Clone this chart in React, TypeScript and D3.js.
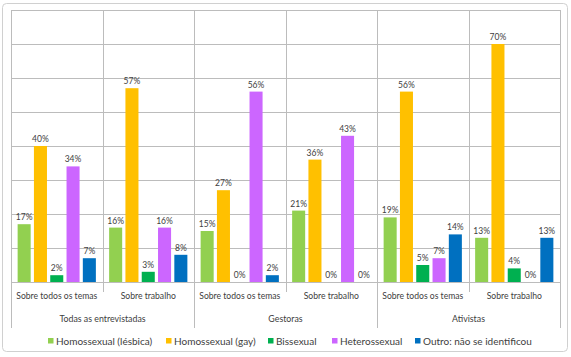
import React from "react";
import * as d3 from "d3";

const groups = ["Todas as entrevistadas", "Gestoras", "Ativistas"];
const subCategories = ["Sobre todos os temas", "Sobre trabalho"];
const seriesNames = [
  "Homossexual (lésbica)",
  "Homossexual (gay)",
  "Bissexual",
  "Heterossexual",
  "Outro: não se identificou",
];
const seriesColors = ["#92D050", "#FFC000", "#00B050", "#CC66FF", "#0070C0"];
// values per category (group x subcategory), in series order
const lesbica = [17, 16, 15, 21, 19, 13];
const gay = [40, 57, 27, 36, 56, 70];
const bissexual = [2, 3, 0, 0, 5, 4];
const heterossexual = [34, 16, 56, 43, 7, 0];
const outro = [7, 8, 2, 0, 14, 13];
const yTicks = [0, 10, 20, 30, 40, 50, 60, 70, 80];

const W = 571;
const H = 357;
const left = 11;
const right = 560;
const top = 10;
const bottom = 282;
const FONT = "Lato, 'Open Sans', sans-serif";
const TXT = "#404040";

export default function App() {
  const series = [lesbica, gay, bissexual, heterossexual, outro];
  const cats: { key: string; label: string; g: number }[] = [];
  groups.forEach((g, gi) =>
    subCategories.forEach((s, si) => cats.push({ key: `${gi}-${si}`, label: s, g: gi }))
  );
  const x0 = d3.scaleBand<string>().domain(cats.map((c) => c.key)).range([left, right]).padding(0);
  const step = x0.bandwidth();
  const x1 = d3
    .scaleBand<number>()
    .domain(d3.range(seriesNames.length))
    .range([5, step - 5])
    .paddingInner(0.2)
    .paddingOuter(0.1);
  const y = d3.scaleLinear().domain([0, 80]).range([bottom, top]);
  const gx = d3.scaleBand<number>().domain(d3.range(groups.length)).range([left, right]);

  const legendX = [48, 166, 268, 332, 415];

  return (
    <svg width={W} height={H} style={{ position: "absolute", left: 0, top: 0 }}>
      <rect x={0} y={0} width={W} height={H} fill="#fff" />
      <rect x={2.5} y={3.5} width={565} height={348} rx={4} fill="#fff" stroke="#d0d0d0" strokeWidth={1} />
      {yTicks.map((t) => (
        <line key={t} x1={left} x2={right} y1={Math.round(y(t)) + 0.5} y2={Math.round(y(t)) + 0.5} stroke="#bcbcbc" />
      ))}
      {cats.map((c) => (
        <line key={c.key} x1={Math.round(x0(c.key)!) + 0.5} x2={Math.round(x0(c.key)!) + 0.5} y1={top} y2={bottom} stroke="#bcbcbc" />
      ))}
      <line x1={right + 0.5} x2={right + 0.5} y1={top} y2={bottom} stroke="#bcbcbc" />
      {cats.map((c, i) => {
        const xx = Math.round(x0(c.key)!) + 0.5;
        const isGroup = i % subCategories.length === 0;
        return <line key={"s" + c.key} x1={xx} x2={xx} y1={bottom} y2={isGroup ? 328 : 292} stroke="#bcbcbc" />;
      })}
      <line x1={right + 0.5} x2={right + 0.5} y1={bottom} y2={328} stroke="#bcbcbc" />
      {cats.map((c, ci) =>
        series.map((vals, si) => {
          const v = vals[ci];
          const bx = x0(c.key)! + x1(si)!;
          return (
            <g key={c.key + si}>
              <rect x={bx} y={y(v)} width={x1.bandwidth()} height={bottom - y(v)} fill={seriesColors[si]} />
              <text
                x={bx + x1.bandwidth() / 2}
                y={y(v) - 4}
                textAnchor="middle"
                fontSize={8.5}
                fontFamily={FONT}
                fill={TXT}
              >
                {v}%
              </text>
            </g>
          );
        })
      )}
      {cats.map((c) => (
        <text key={"l" + c.key} x={x0(c.key)! + step / 2} y={299} textAnchor="middle" fontSize={8.6} fontFamily={FONT} fill={TXT}>
          {c.label}
        </text>
      ))}
      {groups.map((g, gi) => (
        <text key={g} x={gx(gi)! + gx.bandwidth() / 2} y={322} textAnchor="middle" fontSize={8.8} fontFamily={FONT} fill={TXT}>
          {g}
        </text>
      ))}
      {seriesNames.map((s, si) => (
        <g key={s}>
          <rect x={legendX[si]} y={338} width={5.5} height={5.5} fill={seriesColors[si]} />
          <text x={legendX[si] + 8} y={344.5} fontSize={10} fontFamily={FONT} fill={TXT}>
            {s}
          </text>
        </g>
      ))}
    </svg>
  );
}
